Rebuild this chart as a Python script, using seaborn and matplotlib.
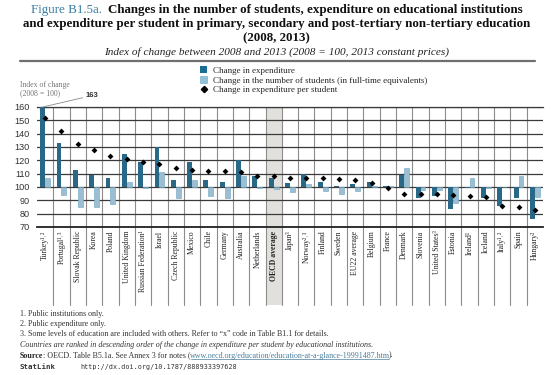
import numpy as np
import pandas as pd
import matplotlib
matplotlib.use("Agg")
import matplotlib.pyplot as plt
import matplotlib.transforms as mtransforms
from matplotlib.patches import Patch, Rectangle
from matplotlib.lines import Line2D
import seaborn as sns

# ---------------- data ----------------
countries = ["Turkey¹˒²", "Portugal¹˒³", "Slovak Republic", "Korea", "Poland",
             "United Kingdom", "Russian Federation¹", "Israel", "Czech Republic",
             "Mexico", "Chile", "Germany", "Australia", "Netherlands", "OECD average",
             "Japan³", "Norway²˒³", "Finland", "Sweden", "EU22 average", "Belgium",
             "France", "Denmark", "Slovenia", "United States³", "Estonia", "Ireland¹",
             "Iceland", "Italy¹˒²", "Spain", "Hungary²"]
expenditure = [163, 133, 113, 109, 107, 125, 119, 130, 105, 118.5, 105, 103.5, 120, 108,
               106.5, 103, 109.5, 103.5, 101, 102.3, 103.8, 101, 109, 92, 93, 83.5, 99.5,
               92, 86, 92, 76]
students = [107, 94, 85, 85, 87, 103.5, 99.5, 111.5, 92, 105, 93, 92, 108, 99.5, 98.5,
            96, 102.5, 97, 95, 97.3, 100.5, 101, 114, 97.5, 97.5, 88, 107, 99.5, 100.3,
            108, 92.5]
per_student = [152, 142, 132, 128, 123, 121, 119, 117, 114, 113, 112, 112, 111, 108.5,
               108, 107, 106.8, 106.5, 106, 105.5, 102.8, 99.5, 95, 94.8, 94.5, 94, 93,
               92.5, 86, 85, 82.5]
series_names = ["Change in expenditure",
                "Change in the number of students (in full-time equivalents)",
                "Change in expenditure per student"]
yticks = [70, 80, 90, 100, 110, 120, 130, 140, 150, 160]
baseline = 100

# ---------------- style ----------------
W, H = 553, 375
SERIF = ["Liberation Serif", "DejaVu Serif"]
SANS = ["Liberation Sans", "DejaVu Sans"]
DARK = "#1b6d96"
LIGHT = "#93c1d9"
GRID = "#3a3a3a"
DIV = "#8c8c8c"

sns.set_style("white")
plt.rcParams["font.family"] = SERIF

fig = plt.figure(figsize=(W / 100, H / 100), dpi=100)
ax = fig.add_axes([37 / W, 1 - 227 / H, (543 - 37) / W, 120 / H])

def fx(x):
    return x / W

def fy(y):
    return 1 - y / H

df = pd.DataFrame({
    "country": countries * 2,
    "series": [series_names[0]] * len(countries) + [series_names[1]] * len(countries),
    "value": expenditure + students,
})
df["delta"] = df["value"] - baseline

sns.barplot(data=df, x="country", y="delta", hue="series", order=countries,
            hue_order=series_names[:2], palette=[DARK, LIGHT], width=0.6,
            bottom=baseline, linewidth=0, legend=False, ax=ax, zorder=3)
for p in ax.patches[len(countries):]:
    p.set_edgecolor("#6aa6c4")
    p.set_linewidth(0.4)

sns.stripplot(x=countries, y=per_student, order=countries, jitter=False, marker="D",
              color="black", size=3.0, ax=ax, zorder=5, legend=False)

ax.set_ylim(70, 160)
ax.set_xlim(-0.5, len(countries) - 0.5)
ax.set_yticks(yticks)
ax.set_xlabel("")
ax.set_ylabel("")
ax.yaxis.grid(True, color=GRID, lw=0.9)
ax.xaxis.grid(False)
ax.set_axisbelow(True)
for s in ["left", "right"]:
    ax.spines[s].set_visible(False)
ax.spines["top"].set_color(GRID)
ax.spines["top"].set_linewidth(0.9)
ax.spines["bottom"].set_color("#222222")
ax.spines["bottom"].set_linewidth(1.3)
ax.tick_params(axis="y", length=4, width=0.9, color=GRID, pad=1, labelsize=6.6,
               labelcolor="#333333")
for t in ax.get_yticklabels():
    t.set_family(SANS)
ax.tick_params(axis="x", length=0, pad=2.5, labelsize=5.6, labelcolor="#222222")
for t in ax.get_xticklabels():
    t.set_rotation(90)
    t.set_family(SERIF)
    if t.get_text() == "OECD average":
        t.set_weight("bold")

blend = mtransforms.blended_transform_factory(ax.transData, ax.transAxes)
low = -(305 - 227) / 120
oecd_i = countries.index("OECD average")
ax.add_patch(Rectangle((oecd_i - 0.5, low), 1, 1 - low, transform=blend,
                       facecolor="#e2e0dc", edgecolor="none", clip_on=False, zorder=0.2))
for i in range(1, len(countries)):
    ax.plot([i - 0.5, i - 0.5], [low, 1], transform=blend, color=DIV, lw=0.8,
            clip_on=False, zorder=0.4)

# 163 annotation
ax.annotate(f"{expenditure[0]:.0f}", xy=(-0.15, 160), xycoords="data",
            xytext=(86, H - 97), textcoords="figure pixels",
            fontsize=5.5, fontweight="bold", family=SANS, color="#333333",
            arrowprops=dict(arrowstyle="-", color="#888888", lw=0.6,
                            shrinkA=0, shrinkB=0))

fig.text(fx(20), fy(81), "Index of change\n(2008 = 100)", fontsize=5.6, color="#777777",
         va="top", ha="left", linespacing=1.05, family=SERIF)

handles = [Patch(facecolor=DARK, edgecolor="none"),
           Patch(facecolor=LIGHT, edgecolor="#6aa6c4", linewidth=0.4),
           Line2D([], [], marker="D", color="black", linestyle="none", markersize=3.2)]
fig.legend(handles, series_names, loc="upper left",
           bbox_to_anchor=(fx(200), fy(66)), frameon=False,
           prop={"family": SERIF, "size": 6.5}, handlelength=0.8, handleheight=0.8,
           labelspacing=0.15, handletextpad=0.6, borderaxespad=0, borderpad=0)

# ---------------- text runs ----------------
renderer = fig.canvas.get_renderer()

def runs(parts, x, y, center=False, gap=0):
    texts = [fig.text(0, fy(y), s, va="baseline", ha="left", **kw) for s, kw in parts]
    widths = [t.get_window_extent(renderer).width for t in texts]
    total = sum(widths) + gap * (len(texts) - 1)
    cur = x - total / 2 if center else x
    out = []
    for t, w in zip(texts, widths):
        t.set_x(fx(cur))
        out.append((cur, cur + w))
        cur += w + gap
    return out

TS = 9.4
runs([("Figure B1.5a.", dict(fontsize=TS, color="#3a7fa3", family=SERIF)),
      ("Changes in the number of students, expenditure on educational institutions",
       dict(fontsize=TS, fontweight="bold", color="#111111", family=SERIF))],
     277, 13.5, center=True, gap=6)
fig.text(0.5, fy(27.5), "and expenditure per student in primary, secondary and "
         "post-tertiary non-tertiary education", ha="center", va="baseline",
         fontsize=TS, fontweight="bold", color="#111111", family=SERIF)
fig.text(0.5, fy(41), "(2008, 2013)", ha="center", va="baseline",
         fontsize=TS, fontweight="bold", color="#111111", family=SERIF)
fig.text(0.5, fy(54.5), "Index of change between 2008 and 2013 (2008 = 100, "
         "2013 constant prices)", ha="center", va="baseline", fontsize=8.1,
         style="italic", color="#222222", family=SERIF)
fig.add_artist(Line2D([fx(20), fx(535)], [fy(61), fy(61)], transform=fig.transFigure,
                      color="#6f6f6f", lw=1.6))

FS = 5.8
notes = ["1. Public institutions only.",
         "2. Public expenditure only.",
         "3. Some levels of education are included with others. Refer to “x” code in "
         "Table B1.1 for details."]
for s, y in zip(notes, [315.5, 326, 336.5]):
    fig.text(fx(20), fy(y), s, fontsize=FS, va="baseline", color="#333333", family=SERIF)
fig.text(fx(20), fy(347), "Countries are ranked in descending order of the change in "
         "expenditure per student by educational institutions.", fontsize=FS,
         style="italic", va="baseline", color="#333333", family=SERIF)
spans = runs([("Source", dict(fontsize=FS, fontweight="bold", color="#222222", family=SERIF)),
              (": OECD. Table B5.1a. See Annex 3 for notes (",
               dict(fontsize=FS, color="#333333", family=SERIF)),
              ("www.oecd.org/education/education-at-a-glance-19991487.htm",
               dict(fontsize=FS, color="#4a7f9c", family=SERIF)),
              (").", dict(fontsize=FS, color="#333333", family=SERIF))],
             20, 357.5, gap=-0.6)
ux0, ux1 = spans[2]
fig.add_artist(Line2D([fx(ux0 + 1), fx(ux1 - 1)], [fy(359), fy(359)],
                      transform=fig.transFigure, color="#4a7f9c", lw=0.5))
runs([("StatLink", dict(fontsize=5.3, fontweight="bold", color="#333333",
                        family=["DejaVu Sans Mono"])),
      ("http://dx.doi.org/10.1787/888933397628",
       dict(fontsize=4.9, color="#333333", family=["DejaVu Sans Mono"]))],
     20, 369, gap=24)

fig.savefig("out.png", dpi=100)
